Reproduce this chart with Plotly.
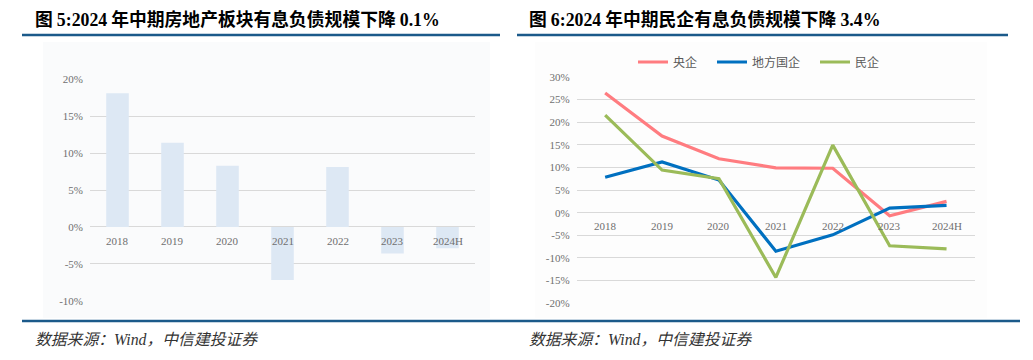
import plotly.graph_objects as go

# ---- data ----
years = ["2018", "2019", "2020", "2021", "2022", "2023", "2024H"]
property_debt_growth = [18.1, 11.4, 8.3, -7.2, 8.1, -3.6, -2.9]   # 图5, %
soe_central = [26.4, 16.9, 11.9, 9.9, 9.8, -0.7, 2.5]             # 央企, %
soe_local = [7.8, 11.2, 7.2, -8.5, -4.9, 1.0, 1.6]                # 地方国企, %
private_ent = [21.5, 9.4, 7.5, -14.3, 14.9, -7.3, -8.0]           # 民企, %
series_names = ["央企", "地方国企", "民企"]
left_ticks = [-10, -5, 0, 5, 10, 15, 20]
right_ticks = [-20, -15, -10, -5, 0, 5, 10, 15, 20, 25, 30]

W, H = 1033, 360
def px(x):
    return x / W
def py(y):
    return 1 - y / H

SERIF = "Liberation Serif"
CJK = "Noto Sans CJK SC"
TICK_COLOR = "#6f6f6f"
GRID = "#d9d9d9"
RULE = "#1b5a8a"

fig = go.Figure()

fig.add_trace(go.Bar(x=years, y=property_debt_growth, marker=dict(color="#dde8f4", line=dict(width=0)),
                     xaxis="x", yaxis="y", showlegend=False, hoverinfo="skip"))

colors = ["#ff7c80", "#0070c0", "#9bbb59"]
legend_ids = ["legend", "legend2", "legend3"]
for name, vals, c, lg in zip(series_names, [soe_central, soe_local, private_ent], colors, legend_ids):
    fig.add_trace(go.Scatter(x=years, y=vals, mode="lines", name=name, legend=lg,
                             line=dict(color=c, width=3.2), xaxis="x2", yaxis="y2"))

tickfont = dict(family=SERIF, size=11, color=TICK_COLOR)

def legend_at(xpix):
    return dict(orientation="h", x=px(xpix), xanchor="left", y=py(62), yanchor="middle",
                font=dict(family=CJK, size=12, color="#595959"), bgcolor="rgba(0,0,0,0)",
                borderwidth=0)

fig.update_layout(
    template="none",
    width=W, height=H, margin=dict(l=0, r=0, t=0, b=0, pad=0, autoexpand=False),
    paper_bgcolor="white", plot_bgcolor="rgba(0,0,0,0)",
    bargap=0.59,
    xaxis=dict(domain=[px(90), px(475)], type="category", range=[-0.5, 6.5], automargin=False,
               showticklabels=False, showgrid=False, zeroline=False, showline=False, ticks=""),
    yaxis=dict(domain=[py(300.7), py(79.3)], range=[-10, 20], tickvals=left_ticks,
               ticktext=[f"{v}%" for v in left_ticks], automargin=False, ticks="", showline=False,
               showgrid=True, gridcolor=GRID, gridwidth=1, zeroline=False,
               tickfont=tickfont, ticklabelstandoff=6),
    xaxis2=dict(domain=[px(576.7), px(975)], type="category", range=[-0.5, 6.5], automargin=False,
                showticklabels=False, showgrid=False, zeroline=False, showline=False, ticks="", anchor="y2"),
    yaxis2=dict(domain=[py(303.3), py(76.7)], range=[-20, 30], tickvals=right_ticks,
                ticktext=[f"{v}%" for v in right_ticks], automargin=False, ticks="", showline=False,
                showgrid=True, gridcolor=GRID, gridwidth=1, zeroline=False,
                tickfont=tickfont, ticklabelstandoff=6, anchor="x2"),
    legend=legend_at(633),
    legend2=legend_at(712),
    legend3=legend_at(815),
    showlegend=True,
)

# category labels sitting just under the 0% line (x given as category index)
for i, yr in enumerate(years):
    fig.add_annotation(x=i, y=0, xref="x", yref="y", text=yr, showarrow=False,
                       yshift=-14, font=tickfont)
    fig.add_annotation(x=i, y=0, xref="x2", yref="y2", text=yr, showarrow=False,
                       yshift=-13, font=tickfont)

# faint chart panels
fig.add_shape(type="rect", xref="paper", yref="paper", x0=px(43), x1=px(490), y0=py(318), y1=py(42),
              fillcolor="#fafbfc", line=dict(width=0), layer="below")
fig.add_shape(type="rect", xref="paper", yref="paper", x0=px(535), x1=px(987), y0=py(318), y1=py(42),
              fillcolor="#fdfdfd", line=dict(width=0), layer="below")

# rules
fig.add_shape(type="line", xref="paper", yref="paper", x0=px(22), x1=px(500), y0=py(35), y1=py(35),
              line=dict(color=RULE, width=2.5))
fig.add_shape(type="line", xref="paper", yref="paper", x0=px(517), x1=px(1008), y0=py(35), y1=py(35),
              line=dict(color=RULE, width=2.5))
fig.add_shape(type="line", xref="paper", yref="paper", x0=px(22), x1=px(1020), y0=py(321), y1=py(321),
              line=dict(color=RULE, width=2.5))

def title_text(num, body, tail):
    s = f"<span style='font-family:{SERIF}'>"
    return (f"<b>图 {s}{num}</span> {body} {s}{tail}</span></b>")

fig.add_annotation(xref="paper", yref="paper", x=px(33), y=py(18), xanchor="left", yanchor="middle",
                   text=title_text("5:2024", "年中期房地产板块有息负债规模下降", "0.1%"),
                   showarrow=False, font=dict(family=CJK, size=17.8, color="black"))
fig.add_annotation(xref="paper", yref="paper", x=px(527), y=py(18), xanchor="left", yanchor="middle",
                   text=title_text("6:2024", "年中期民企有息负债规模下降", "3.4%"),
                   showarrow=False, font=dict(family=CJK, size=17.8, color="black"))

src = f"<i>数据来源：<span style='font-family:{SERIF}'>Wind</span>，中信建投证券</i>"
for x0 in (33, 527):
    fig.add_annotation(xref="paper", yref="paper", x=px(x0), y=py(338), xanchor="left", yanchor="middle",
                       text=src, showarrow=False, font=dict(family=CJK, size=15.8, color="#333333"))

fig.write_html("out.html", config={"displayModeBar": False},
               post_script="document.body.style.margin='0';")
